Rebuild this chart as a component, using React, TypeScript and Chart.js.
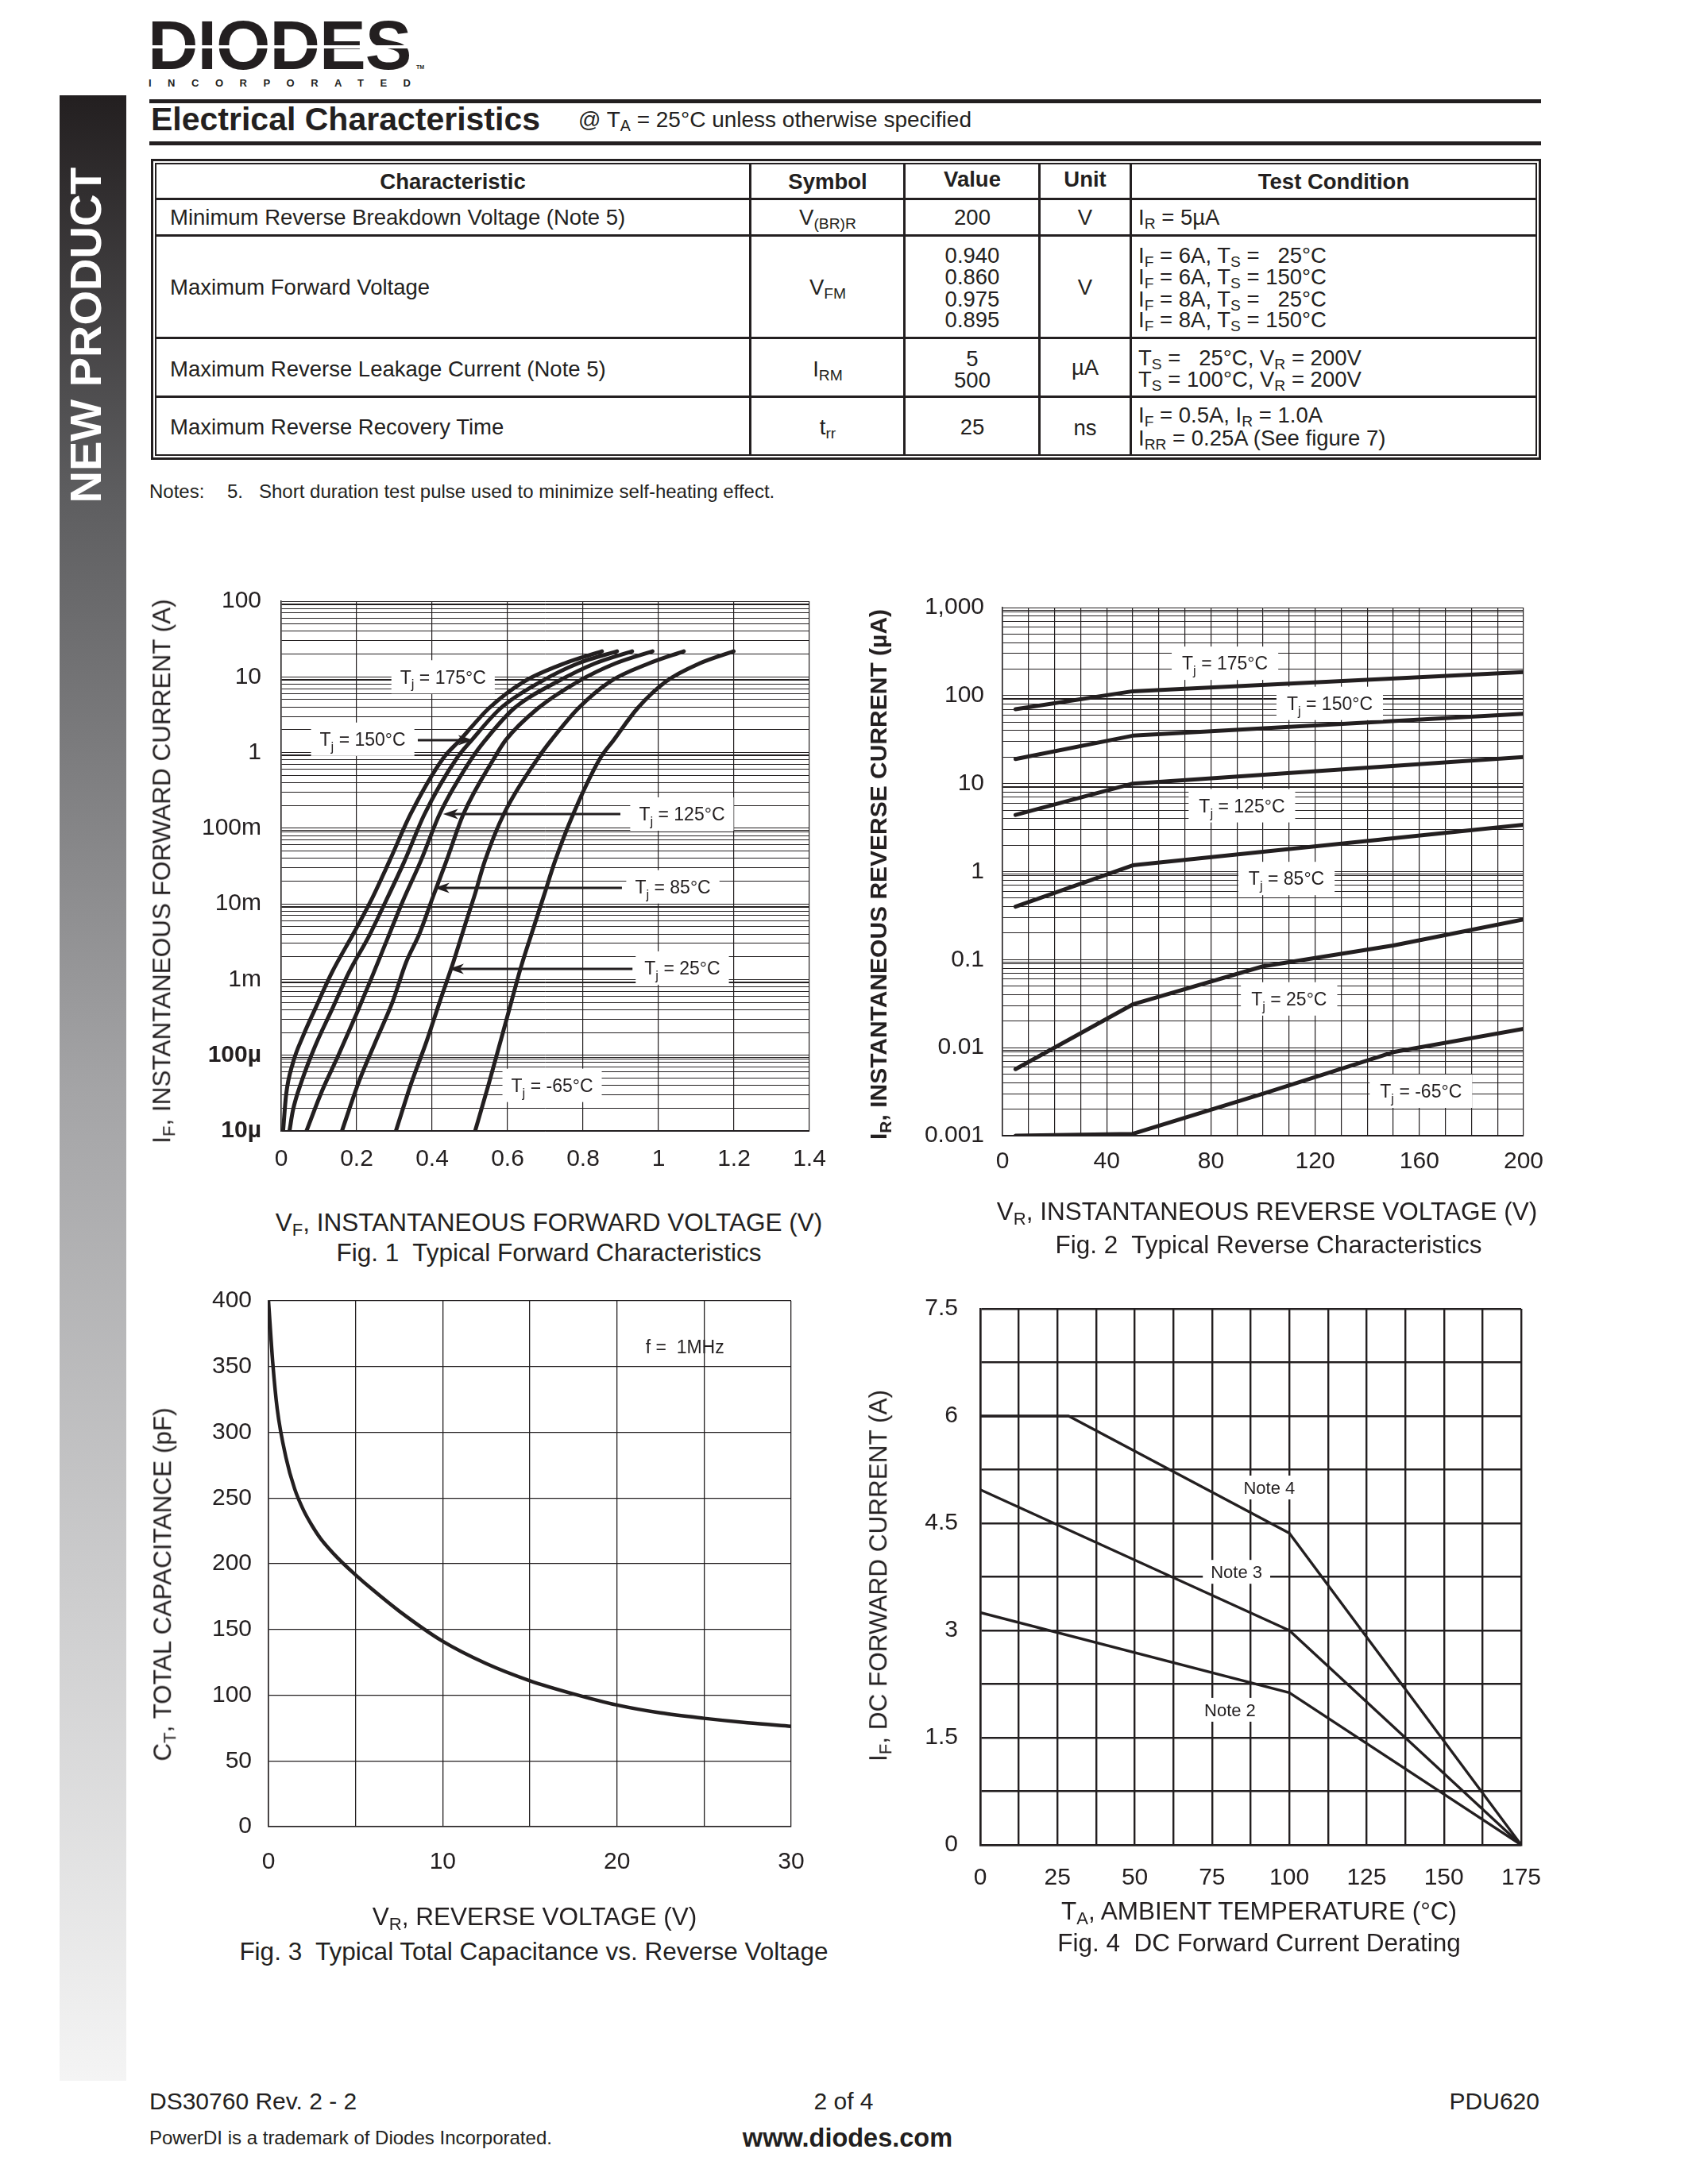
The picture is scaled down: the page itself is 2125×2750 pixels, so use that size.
import React, { useEffect, useRef } from 'react';
import { Chart, registerables } from 'chart.js';

Chart.register(...registerables);

const FONT = '"Liberation Sans", Arial, Helvetica, sans-serif';
const INK = '#231f20';

// ---------------- Fig. 1 : Typical forward characteristics (V, A) ----------------
const FWD_175_V = [0.005, 0.013, 0.031, 0.058, 0.089, 0.134, 0.192, 0.237, 0.286, 0.343, 0.429, 0.474, 0.55, 0.644, 0.751, 0.85];
const FWD_175_I = [1.0e-5, 3.0e-5, 7.9e-5, 1.8e-4, 4.0e-4, 1.23e-3, 4.1e-3, 0.0108, 0.036, 0.154, 0.836, 1.46, 3.83, 8.7, 15.1, 21.8];
const FWD_150_V = [0.022, 0.031, 0.054, 0.089, 0.134, 0.179, 0.233, 0.277, 0.326, 0.38, 0.465, 0.505, 0.581, 0.689, 0.787, 0.89];
const FWD_150_I = [1.0e-5, 1.86e-5, 4.5e-5, 1.29e-4, 3.97e-4, 1.23e-3, 3.79e-3, 0.0108, 0.036, 0.154, 0.836, 1.46, 3.83, 8.7, 15.1, 21.8];
const FWD_125_V = [0.067, 0.107, 0.152, 0.201, 0.242, 0.282, 0.322, 0.369, 0.42, 0.505, 0.541, 0.617, 0.733, 0.832, 0.93];
const FWD_125_I = [1.0e-5, 3.27e-5, 1.01e-4, 3.66e-4, 1.13e-3, 3.5e-3, 0.0108, 0.036, 0.154, 0.836, 1.46, 3.83, 8.7, 15.1, 21.8];
const FWD_85_V = [0.161, 0.206, 0.25, 0.295, 0.331, 0.367, 0.403, 0.437, 0.483, 0.564, 0.595, 0.68, 0.787, 0.886, 0.984];
const FWD_85_I = [1.0e-5, 4.5e-5, 1.51e-4, 5.06e-4, 1.69e-3, 4.11e-3, 0.0127, 0.036, 0.154, 0.836, 1.46, 3.83, 8.7, 15.1, 21.8];
const FWD_25_V = [0.304, 0.344, 0.385, 0.42, 0.456, 0.487, 0.514, 0.539, 0.59, 0.68, 0.716, 0.787, 0.872, 0.975, 1.067];
const FWD_25_I = [1.0e-5, 4.17e-5, 1.51e-4, 5.06e-4, 1.69e-3, 5.24e-3, 0.0137, 0.036, 0.154, 0.836, 1.46, 3.83, 8.7, 15.1, 21.8];
const FWD_M65_V = [0.514, 0.55, 0.581, 0.608, 0.635, 0.671, 0.698, 0.725, 0.774, 0.845, 0.881, 0.944, 1.02, 1.109, 1.199];
const FWD_M65_I = [1.0e-5, 4.17e-5, 1.51e-4, 4.67e-4, 1.44e-3, 5.24e-3, 0.0137, 0.036, 0.154, 0.836, 1.46, 3.83, 8.7, 15.1, 21.8];

const FIG1_X_GRID = [0, 0.2, 0.4, 0.6, 0.8, 1, 1.2, 1.4];
const FIG1_X_LABELS = ['0', '0.2', '0.4', '0.6', '0.8', '1', '1.2', '1.4'];
const FIG1_Y_DECADES = [1e-5, 1e-4, 1e-3, 1e-2, 1e-1, 1, 10, 100];
const FIG1_Y_LABELS = ['10µ', '100µ', '1m', '10m', '100m', '1', '10', '100'];

// ---------------- Fig. 2 : Typical reverse characteristics (V, µA) ----------------
const REV_175_V = [5, 50, 200];
const REV_175_I = [70, 112, 185];
const REV_150_V = [5, 50, 200];
const REV_150_I = [19, 35, 62];
const REV_125_V = [5, 50, 200];
const REV_125_I = [4.4, 10, 20];
const REV_85_V = [5, 50, 200];
const REV_85_I = [0.4, 1.18, 3.4];
const REV_25_V = [5, 50, 100, 150, 200];
const REV_25_I = [0.0057, 0.031, 0.084, 0.145, 0.286];
const REV_M65_V = [5, 50, 100, 150, 200];
const REV_M65_I = [0.001, 0.00105, 0.003, 0.0089, 0.0164];

const FIG2_X_GRID = [0, 10, 20, 30, 40, 50, 60, 70, 80, 90, 100, 110, 120, 130, 140, 150, 160, 170, 180, 190, 200];
const FIG2_X_LABELED = [0, 40, 80, 120, 160, 200];
const FIG2_Y_DECADES = [0.001, 0.01, 0.1, 1, 10, 100, 1000];
const FIG2_Y_LABELS = ['0.001', '0.01', '0.1', '1', '10', '100', '1,000'];

// ---------------- Fig. 3 : Total capacitance vs reverse voltage (V, pF) ----------------
const CAP_V = [0, 0.25, 0.5, 1, 1.5, 2, 2.5, 3, 4, 5, 6, 7.5, 10, 12.5, 15, 17.5, 20, 22.5, 25, 27.5, 30];
const CAP_C = [400, 352, 318, 281, 257, 241, 229, 219, 204, 191.5, 180, 164, 141, 124, 111, 101, 92.5, 86.5, 82.4, 79, 76.3];

const FIG3_X_GRID = [0, 5, 10, 15, 20, 25, 30];
const FIG3_X_LABELED = [0, 10, 20, 30];
const FIG3_Y_GRID = [0, 50, 100, 150, 200, 250, 300, 350, 400];

// ---------------- Fig. 4 : DC forward current derating (°C, A) ----------------
const DER_N4_T = [0, 28.6, 100, 175];
const DER_N4_I = [6.0, 6.0, 4.36, 0];
const DER_N3_T = [0, 100, 175];
const DER_N3_I = [4.97, 3.0, 0];
const DER_N2_T = [0, 100, 175];
const DER_N2_I = [3.25, 2.13, 0];

const FIG4_X_GRID = [0, 12.5, 25, 37.5, 50, 62.5, 75, 87.5, 100, 112.5, 125, 137.5, 150, 162.5, 175];
const FIG4_X_LABELED = [0, 25, 50, 75, 100, 125, 150, 175];
const FIG4_Y_GRID = [0, 0.75, 1.5, 2.25, 3, 3.75, 4.5, 5.25, 6, 6.75, 7.5];
const FIG4_Y_LABELED = [0, 1.5, 3, 4.5, 6, 7.5];

// log-scale grid significands per decade (+ the doubled decade rule)
const LOG_GRID_STEPS = [1, 2, 3, 4, 5, 6, 7, 8, 9];
const LOG_DOUBLE_RULE = 0.93;

type Part = [string, boolean];
type Note = { x: number; y: number; parts: Part[]; box?: boolean; arrow?: { from: number; to: number; y: number } };
const TJ = (t: string): Part[] => [['T', false], ['j', true], [` = ${t}°C`, false]];

const FIG1_NOTES: Note[] = [
  { x: 0.429, y: 10, parts: TJ('175'), box: true },
  { x: 0.216, y: 1.5, parts: TJ('150'), box: true, arrow: { from: 0.362, to: 0.509, y: 1.46 } },
  { x: 1.062, y: 0.154, parts: TJ('125'), box: true, arrow: { from: 0.899, to: 0.429, y: 0.154 } },
  { x: 1.038, y: 0.0168, parts: TJ('85'), box: true, arrow: { from: 0.903, to: 0.406, y: 0.0162 } },
  { x: 1.063, y: 1.42e-3, parts: TJ('25'), box: true, arrow: { from: 0.931, to: 0.444, y: 1.39e-3 } },
  { x: 0.718, y: 4.0e-5, parts: TJ('-65'), box: true },
];
const FIG2_NOTES: Note[] = [
  { x: 85.4, y: 233, parts: TJ('175'), box: true },
  { x: 125.6, y: 81.5, parts: TJ('150'), box: true },
  { x: 91.9, y: 5.6, parts: TJ('125'), box: true },
  { x: 109, y: 0.835, parts: TJ('85'), box: true },
  { x: 110, y: 0.0358, parts: TJ('25'), box: true },
  { x: 160.6, y: 0.0032, parts: TJ('-65'), box: true },
];
const FIG3_NOTES: Note[] = [{ x: 23.9, y: 365, parts: [['f =  1MHz', false]] }];
const FIG4_NOTES: Note[] = [
  { x: 93.5, y: 5.0, parts: [['Note 4', false]], box: true },
  { x: 82.9, y: 3.82, parts: [['Note 3', false]], box: true },
  { x: 80.8, y: 1.89, parts: [['Note 2', false]], box: true },
];

// ---------------- helpers ----------------
function logGrid(decades: number[]): number[] {
  const out: number[] = [];
  for (let i = 0; i < decades.length - 1; i++) {
    if (i > 0) out.push(decades[i] * LOG_DOUBLE_RULE);
    for (const s of LOG_GRID_STEPS) out.push(decades[i] * s);
  }
  const last = decades[decades.length - 1];
  out.push(last * LOG_DOUBLE_RULE);
  out.push(last);
  return out.sort((a, b) => a - b);
}
const near = (list: number[], v: number) => list.some((d) => Math.abs(d - v) <= Math.abs(d) * 1e-9 + 1e-12);

function series(xs: number[], ys: number[], width: number, smooth: boolean) {
  return {
    data: xs.map((x, i) => ({ x, y: ys[i] })),
    borderColor: INK,
    borderWidth: width,
    pointRadius: 0,
    fill: false,
    borderCapStyle: 'round',
    borderJoinStyle: 'round',
    cubicInterpolationMode: smooth ? 'monotone' : 'default',
    tension: 0,
  };
}

function axis(o: {
  type?: string; min: number; max: number; grid: number[]; label: (v: number) => string;
  fit: number; horizontal: boolean; pad: number; size: number; lw: (v: number) => number;
  bold?: (v: number) => boolean; borderW: number;
}) {
  return {
    type: o.type || 'linear',
    min: o.min,
    max: o.max,
    afterBuildTicks: (s: any) => { s.ticks = o.grid.map((v) => ({ value: v })); },
    afterFit: (s: any) => { if (o.horizontal) s.height = o.fit; else s.width = o.fit; },
    ticks: {
      autoSkip: false, maxRotation: 0, minRotation: 0, padding: o.pad, color: INK,
      font: (c: any) => ({ family: FONT, size: o.size, weight: o.bold && c.tick && o.bold(c.tick.value) ? 'bold' : 'normal' }),
      callback: (v: any) => o.label(Number(v)),
    },
    grid: { color: INK, lineWidth: (c: any) => (c.tick ? o.lw(c.tick.value) : 1), drawTicks: false, tickLength: 0 },
    border: { display: true, color: INK, width: o.borderW },
  };
}

function drawParts(ctx: CanvasRenderingContext2D, parts: Part[], cx: number, cy: number, size: number, measureOnly = false) {
  const sub = size * 0.72;
  let total = 0;
  const widths = parts.map(([t, s]) => {
    ctx.font = `${s ? sub : size}px ${FONT}`;
    const w = ctx.measureText(t).width;
    total += w;
    return w;
  });
  if (measureOnly) return total;
  let x = cx - total / 2;
  const base = cy + size * 0.358;
  ctx.textAlign = 'left';
  ctx.textBaseline = 'alphabetic';
  ctx.fillStyle = INK;
  parts.forEach(([t, s], i) => {
    ctx.font = `${s ? sub : size}px ${FONT}`;
    ctx.fillText(t, x, s ? base + size * 0.3 : base);
    x += widths[i];
  });
  return total;
}

function notesPlugin(id: string, notes: Note[], size: number, padX: number, boxH: number) {
  return {
    id,
    afterDatasetsDraw(chart: any) {
      const { ctx, scales } = chart;
      const xs = scales.x, ys = scales.y;
      ctx.save();
      notes.forEach((n) => {
        if (n.arrow) {
          const y0 = Math.round(ys.getPixelForValue(n.arrow.y));
          const x1 = xs.getPixelForValue(n.arrow.from);
          const x2 = xs.getPixelForValue(n.arrow.to);
          const dir = Math.sign(x2 - x1);
          const head = 19;
          ctx.strokeStyle = INK;
          ctx.lineWidth = 3;
          ctx.beginPath();
          ctx.moveTo(x1, y0);
          ctx.lineTo(x2 - dir * head * 0.7, y0);
          ctx.stroke();
          ctx.fillStyle = INK;
          ctx.beginPath();
          ctx.moveTo(x2, y0);
          ctx.lineTo(x2 - dir * head, y0 - 6.5);
          ctx.lineTo(x2 - dir * head * 0.72, y0);
          ctx.lineTo(x2 - dir * head, y0 + 6.5);
          ctx.closePath();
          ctx.fill();
        }
        const cx = xs.getPixelForValue(n.x);
        const cy = ys.getPixelForValue(n.y);
        const w = drawParts(ctx, n.parts, cx, cy, size, true);
        if (n.box) {
          ctx.fillStyle = '#ffffff';
          ctx.fillRect(cx - w / 2 - padX, cy - boxH / 2, w + 2 * padX, boxH);
        }
        drawParts(ctx, n.parts, cx, cy, size);
      });
      ctx.restore();
    },
  };
}

function baseOptions(padding: any) {
  return {
    animation: false,
    responsive: false,
    maintainAspectRatio: false,
    devicePixelRatio: 1,
    layout: { padding },
    plugins: { legend: { display: false }, tooltip: { enabled: false }, title: { display: false } },
    events: [],
  };
}

function decadeLabel(decades: number[], labels: string[]) {
  return (v: number) => {
    const k = decades.findIndex((d) => Math.abs(d - v) <= d * 1e-9);
    return k < 0 ? '' : labels[k];
  };
}
const logLineWidth = () => 1;

function fig1Config(): any {
  const curves = [
    [FWD_175_V, FWD_175_I], [FWD_150_V, FWD_150_I], [FWD_125_V, FWD_125_I],
    [FWD_85_V, FWD_85_I], [FWD_25_V, FWD_25_I], [FWD_M65_V, FWD_M65_I],
  ];
  return {
    type: 'line',
    data: { datasets: curves.map(([v, i]) => series(v, i, 5, true)) },
    options: {
      ...baseOptions({ top: 43, right: 61, left: 0, bottom: 0 }),
      scales: {
        x: axis({
          min: 0, max: 1.4, grid: FIG1_X_GRID, horizontal: true, fit: 96, pad: 18, size: 30, borderW: 1.5,
          label: (v) => { const k = FIG1_X_GRID.findIndex((g) => Math.abs(g - v) < 1e-9); return k < 0 ? '' : FIG1_X_LABELS[k]; },
          lw: () => 1.2,
        }),
        y: axis({
          type: 'logarithmic', min: 1e-5, max: 100, grid: logGrid(FIG1_Y_DECADES), horizontal: false, fit: 174, pad: 25, size: 30, borderW: 1.5,
          label: decadeLabel(FIG1_Y_DECADES, FIG1_Y_LABELS),
          lw: logLineWidth,
          bold: (v) => v < 1e-3 * 0.99,
        }),
      },
    },
    plugins: [notesPlugin('fig1notes', FIG1_NOTES, 23, 11, 42)],
  };
}

function fig2Config(): any {
  const curves = [
    [REV_175_V, REV_175_I], [REV_150_V, REV_150_I], [REV_125_V, REV_125_I],
    [REV_85_V, REV_85_I], [REV_25_V, REV_25_I], [REV_M65_V, REV_M65_I],
  ];
  return {
    type: 'line',
    data: { datasets: curves.map(([v, i]) => series(v, i, 5, false)) },
    options: {
      ...baseOptions({ top: 41, right: 62, left: 0, bottom: 0 }),
      scales: {
        x: axis({
          min: 0, max: 200, grid: FIG2_X_GRID, horizontal: true, fit: 92, pad: 15, size: 30, borderW: 1.5,
          label: (v) => (near(FIG2_X_LABELED, v) ? String(v) : ''),
          lw: () => 1.2,
        }),
        y: axis({
          type: 'logarithmic', min: 0.001, max: 1000, grid: logGrid(FIG2_Y_DECADES), horizontal: false, fit: 202, pad: 23, size: 30, borderW: 1.5,
          label: decadeLabel(FIG2_Y_DECADES, FIG2_Y_LABELS),
          lw: logLineWidth,
        }),
      },
    },
    plugins: [notesPlugin('fig2notes', FIG2_NOTES, 23, 13, 42)],
  };
}

function fig3Config(): any {
  return {
    type: 'line',
    data: { datasets: [series(CAP_V, CAP_C, 4.5, true)] },
    options: {
      ...baseOptions({ top: 39, right: 64, left: 0, bottom: 0 }),
      scales: {
        x: axis({
          min: 0, max: 30, grid: FIG3_X_GRID, horizontal: true, fit: 100, pad: 27, size: 30, borderW: 1.5,
          label: (v) => (near(FIG3_X_LABELED, v) ? String(v) : ''),
          lw: () => 1.3,
        }),
        y: axis({
          min: 0, max: 400, grid: FIG3_Y_GRID, horizontal: false, fit: 158, pad: 21, size: 30, borderW: 1.5,
          label: (v) => String(v),
          lw: () => 1.3,
        }),
      },
    },
    plugins: [notesPlugin('fig3notes', FIG3_NOTES, 23, 0, 0)],
  };
}

function fig4Config(): any {
  const curves = [[DER_N4_T, DER_N4_I], [DER_N3_T, DER_N3_I], [DER_N2_T, DER_N2_I]];
  return {
    type: 'line',
    data: { datasets: curves.map(([t, i]) => series(t, i, 3.4, false)) },
    options: {
      ...baseOptions({ top: 46, right: 65, left: 0, bottom: 0 }),
      scales: {
        x: axis({
          min: 0, max: 175, grid: FIG4_X_GRID, horizontal: true, fit: 88, pad: 24, size: 30, borderW: 2.5,
          label: (v) => (near(FIG4_X_LABELED, v) ? String(v) : ''),
          lw: () => 2.4,
        }),
        y: axis({
          min: 0, max: 7.5, grid: FIG4_Y_GRID, horizontal: false, fit: 174, pad: 28, size: 30, borderW: 2.5,
          label: (v) => (near(FIG4_Y_LABELED, v) ? String(v) : ''),
          lw: () => 2.4,
        }),
      },
    },
    plugins: [notesPlugin('fig4notes', FIG4_NOTES, 22, 10, 30)],
  };
}

function ChartCanvas({ left, top, width, height, make }: any) {
  const ref = useRef<HTMLCanvasElement>(null);
  useEffect(() => {
    const chart = new Chart(ref.current as HTMLCanvasElement, make());
    return () => chart.destroy();
  }, []);
  return <canvas ref={ref} width={width} height={height} style={{ position: 'absolute', left, top, width, height }} />;
}

function Txt({ x, y, size, align = 'left', bold = false, rot = false, color = INK, style = {}, children }: any) {
  const tx = align === 'left' ? '0' : align === 'center' ? '-50%' : '-100%';
  const transform = rot ? 'translate(-50%, -50%) rotate(-90deg)' : `translate(${tx}, -50%)`;
  return (
    <div style={{ position: 'absolute', left: x, top: y, fontSize: size, lineHeight: 1, whiteSpace: 'pre', fontWeight: bold ? 700 : 400, color, transform, ...style }}>
      {children}
    </div>
  );
}

const Sub = ({ children }: any) => (
  <span style={{ fontSize: '0.7em', position: 'relative', top: '0.28em' }}>{children}</span>
);

const Box = ({ x, y, w, h, bg = INK }: any) => (
  <div style={{ position: 'absolute', left: x, top: y, width: w, height: h, background: bg }} />
);

export default function App() {
  useEffect(() => {
    document.body.style.margin = '0';
  }, []);
  const T = 27.5; // table font
  const A = 31.5; // axis titles / captions
  return (
    <div style={{ position: 'absolute', left: 0, top: 0, width: 2125, height: 2750, background: '#fff', fontFamily: FONT, color: INK, overflow: 'hidden' }}>
      {/* side bar */}
      <div style={{ position: 'absolute', left: 75, top: 120, width: 84, height: 2500, background: 'linear-gradient(to bottom, #231f20 0%, #5d5d5f 20%, #a4a4a6 50%, #f4f4f4 100%)' }} />
      <Txt x={108} y={422} size={56} bold rot color="#ffffff">NEW PRODUCT</Txt>

      {/* logo */}
      <Txt x={186} y={57} size={88} bold style={{ letterSpacing: -1 }}>DIODES</Txt>
      <Box x={186} y={57} w={340} h={3.5} bg="#fff" />
      <Txt x={524} y={84} size={7} bold>TM</Txt>
      <Txt x={187} y={104} size={13} bold style={{ letterSpacing: 20.5 }}>INCORPORATED</Txt>

      {/* section header */}
      <Box x={188} y={125} w={1752} h={5} />
      <Txt x={190} y={150} size={41} bold>Electrical Characteristics</Txt>
      <Txt x={728} y={151} size={28}>@ T<Sub>A</Sub> = 25°C unless otherwise specified</Txt>
      <Box x={188} y={178} w={1752} h={5} />

      {/* table frame */}
      <div style={{ position: 'absolute', left: 190, top: 200, width: 1750, height: 379, border: `3px solid ${INK}`, boxSizing: 'border-box' }} />
      <div style={{ position: 'absolute', left: 195, top: 205, width: 1740, height: 369, border: `2px solid ${INK}`, boxSizing: 'border-box' }} />
      <Box x={195} y={249} w={1740} h={3} />
      <Box x={195} y={295} w={1740} h={3} />
      <Box x={195} y={424} w={1740} h={3} />
      <Box x={195} y={498} w={1740} h={3} />
      <Box x={943} y={205} w={3} h={369} />
      <Box x={1137} y={205} w={3} h={369} />
      <Box x={1307} y={205} w={3} h={369} />
      <Box x={1422} y={205} w={3} h={369} />

      {/* table header */}
      <Txt x={570} y={229} size={T} bold align="center">Characteristic</Txt>
      <Txt x={1042} y={229} size={T} bold align="center">Symbol</Txt>
      <Txt x={1224} y={226} size={T} bold align="center">Value</Txt>
      <Txt x={1366} y={226} size={T} bold align="center">Unit</Txt>
      <Txt x={1679} y={229} size={T} bold align="center">Test Condition</Txt>

      {/* row 1 */}
      <Txt x={214} y={274} size={T}>Minimum Reverse Breakdown Voltage (Note 5)</Txt>
      <Txt x={1042} y={274} size={T} align="center">V<Sub>(BR)R</Sub></Txt>
      <Txt x={1224} y={274} size={T} align="center">200</Txt>
      <Txt x={1366} y={274} size={T} align="center">V</Txt>
      <Txt x={1433} y={274} size={T}>I<Sub>R</Sub> = 5µA</Txt>

      {/* row 2 */}
      <Txt x={214} y={362} size={T}>Maximum Forward Voltage</Txt>
      <Txt x={1042} y={362} size={T} align="center">V<Sub>FM</Sub></Txt>
      <Txt x={1224} y={322} size={T} align="center">0.940</Txt>
      <Txt x={1224} y={349} size={T} align="center">0.860</Txt>
      <Txt x={1224} y={377} size={T} align="center">0.975</Txt>
      <Txt x={1224} y={403} size={T} align="center">0.895</Txt>
      <Txt x={1366} y={362} size={T} align="center">V</Txt>
      <Txt x={1433} y={322} size={T}>I<Sub>F</Sub> = 6A, T<Sub>S</Sub> =   25°C</Txt>
      <Txt x={1433} y={349} size={T}>I<Sub>F</Sub> = 6A, T<Sub>S</Sub> = 150°C</Txt>
      <Txt x={1433} y={377} size={T}>I<Sub>F</Sub> = 8A, T<Sub>S</Sub> =   25°C</Txt>
      <Txt x={1433} y={403} size={T}>I<Sub>F</Sub> = 8A, T<Sub>S</Sub> = 150°C</Txt>

      {/* row 3 */}
      <Txt x={214} y={465} size={T}>Maximum Reverse Leakage Current (Note 5)</Txt>
      <Txt x={1042} y={465} size={T} align="center">I<Sub>RM</Sub></Txt>
      <Txt x={1224} y={452} size={T} align="center">5</Txt>
      <Txt x={1224} y={479} size={T} align="center">500</Txt>
      <Txt x={1366} y={463} size={T} align="center">µA</Txt>
      <Txt x={1433} y={451} size={T}>T<Sub>S</Sub> =   25°C, V<Sub>R</Sub> = 200V</Txt>
      <Txt x={1433} y={478} size={T}>T<Sub>S</Sub> = 100°C, V<Sub>R</Sub> = 200V</Txt>

      {/* row 4 */}
      <Txt x={214} y={538} size={T}>Maximum Reverse Recovery Time</Txt>
      <Txt x={1042} y={538} size={T} align="center">t<Sub>rr</Sub></Txt>
      <Txt x={1224} y={538} size={T} align="center">25</Txt>
      <Txt x={1366} y={539} size={T} align="center">ns</Txt>
      <Txt x={1433} y={523} size={T}>I<Sub>F</Sub> = 0.5A, I<Sub>R</Sub> = 1.0A</Txt>
      <Txt x={1433} y={552} size={T}>I<Sub>RR</Sub> = 0.25A (See figure 7)</Txt>

      {/* notes */}
      <Txt x={188} y={619} size={24}>Notes:</Txt>
      <Txt x={286} y={619} size={24}>5.</Txt>
      <Txt x={326} y={619} size={24}>Short duration test pulse used to minimize self-heating effect.</Txt>

      {/* charts */}
      <ChartCanvas left={180} top={714} width={900} height={806} make={fig1Config} />
      <ChartCanvas left={1060} top={724} width={920} height={798} make={fig2Config} />
      <ChartCanvas left={180} top={1599} width={880} height={801} make={fig3Config} />
      <ChartCanvas left={1060} top={1602} width={920} height={809} make={fig4Config} />

      {/* Fig 1 titles */}
      <Txt x={204} y={1097} size={A} rot>I<Sub>F</Sub>, INSTANTANEOUS FORWARD CURRENT (A)</Txt>
      <Txt x={691} y={1540} size={A} align="center">V<Sub>F</Sub>, INSTANTANEOUS FORWARD VOLTAGE (V)</Txt>
      <Txt x={691} y={1578} size={A} align="center">Fig. 1  Typical Forward Characteristics</Txt>

      {/* Fig 2 titles */}
      <Txt x={1106} y={1101} size={30} bold rot>I<Sub>R</Sub>, INSTANTANEOUS REVERSE CURRENT (µA)</Txt>
      <Txt x={1595} y={1526} size={A} align="center">V<Sub>R</Sub>, INSTANTANEOUS REVERSE VOLTAGE (V)</Txt>
      <Txt x={1597} y={1568} size={A} align="center">Fig. 2  Typical Reverse Characteristics</Txt>

      {/* Fig 3 titles */}
      <Txt x={205} y={1995} size={A} rot>C<Sub>T</Sub>, TOTAL CAPACITANCE (pF)</Txt>
      <Txt x={673} y={2414} size={A} align="center">V<Sub>R</Sub>, REVERSE VOLTAGE (V)</Txt>
      <Txt x={672} y={2458} size={A} align="center">Fig. 3  Typical Total Capacitance vs. Reverse Voltage</Txt>

      {/* Fig 4 titles */}
      <Txt x={1106} y={1984} size={A} rot>I<Sub>F</Sub>, DC FORWARD CURRENT (A)</Txt>
      <Txt x={1585} y={2407} size={A} align="center">T<Sub>A</Sub>, AMBIENT TEMPERATURE (°C)</Txt>
      <Txt x={1585} y={2447} size={A} align="center">Fig. 4  DC Forward Current Derating</Txt>

      {/* footer */}
      <Txt x={188} y={2646} size={30}>DS30760 Rev. 2 - 2</Txt>
      <Txt x={1062} y={2646} size={30} align="center">2 of 4</Txt>
      <Txt x={1938} y={2646} size={30} align="right">PDU620</Txt>
      <Txt x={188} y={2692} size={24}>PowerDI is a trademark of Diodes Incorporated.</Txt>
      <Txt x={1067} y={2692} size={32.5} bold align="center">www.diodes.com</Txt>
    </div>
  );
}
